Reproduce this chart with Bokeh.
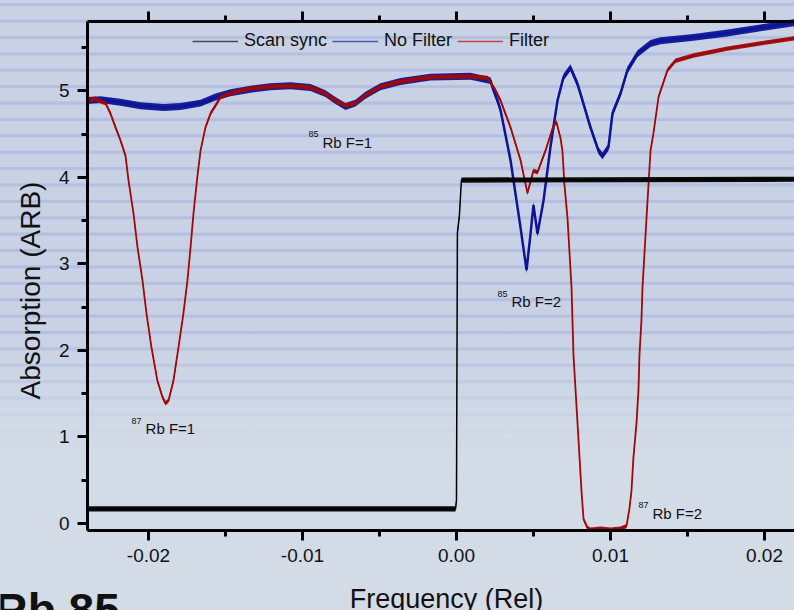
import numpy as np
from bokeh.plotting import figure
from bokeh.models import (FixedTicker, Legend, LegendItem, Label, LinearAxis,
                          Range1d, ColumnDataSource)
from bokeh.core.properties import value
from bokeh.embed import file_html
from bokeh.resources import INLINE

# ---------------- data ----------------
scan_x = [-0.02396, -0.00006, 0.00000, 0.00006, 0.00019, 0.00032, 0.02195]
scan_y = [0.17, 0.17, 0.27, 3.36, 3.56, 3.97, 3.98]

nofilter_x = [-0.02396, -0.02312, -0.02182, -0.02052, -0.01903, -0.01792, -0.01662,
              -0.01565, -0.01468, -0.01338, -0.01208, -0.01078, -0.00948, -0.00851,
              -0.00786, -0.00721, -0.00656, -0.00591, -0.00494, -0.00364, -0.00169,
              0.00091, 0.00221, 0.00240, 0.00266, 0.00286, 0.00351, 0.00416, 0.00455,
              0.00481, 0.00500, 0.00526, 0.00565, 0.00610, 0.00656, 0.00695, 0.00740,
              0.00786, 0.00805, 0.00870, 0.00922, 0.00948, 0.00987, 0.01013, 0.01065,
              0.01110, 0.01175, 0.01260, 0.01325, 0.01539, 0.01760, 0.01974, 0.02195]
nofilter_y = [4.89, 4.90, 4.87, 4.83, 4.81, 4.82, 4.86,
              4.93, 4.98, 5.02, 5.05, 5.06, 5.04, 4.97,
              4.89, 4.82, 4.86, 4.95, 5.05, 5.11, 5.16,
              5.17, 5.12, 5.01, 4.89, 4.78, 4.20, 3.42, 2.93,
              3.35, 3.68, 3.35, 3.73, 4.35, 4.89, 5.16, 5.27,
              5.08, 4.97, 4.58, 4.31, 4.25, 4.35, 4.74, 4.97,
              5.24, 5.43, 5.55, 5.58, 5.62, 5.67, 5.73, 5.79]

filter_x = [-0.02396, -0.02344, -0.02312, -0.02279, -0.02247, -0.02214, -0.02182,
            -0.02149, -0.02130, -0.02097, -0.02071, -0.02039, -0.02013, -0.01981,
            -0.01942, -0.01909, -0.01890, -0.01870, -0.01838, -0.01805, -0.01773,
            -0.01747, -0.01727, -0.01708, -0.01682, -0.01662, -0.01630, -0.01597,
            -0.01565, -0.01532, -0.01435, -0.01338, -0.01208, -0.01078, -0.00948,
            -0.00851, -0.00786, -0.00721, -0.00656, -0.00591, -0.00494, -0.00364,
            -0.00169, 0.00091, 0.00201, 0.00253, 0.00286, 0.00351, 0.00416,
            0.00461, 0.00500, 0.00526, 0.00578, 0.00630, 0.00649, 0.00675,
            0.00688, 0.00701, 0.00721, 0.00747, 0.00760, 0.00786, 0.00812,
            0.00825, 0.00851, 0.00870, 0.00935, 0.01000, 0.01065, 0.01104,
            0.01123, 0.01136, 0.01149, 0.01169, 0.01182, 0.01188, 0.01201,
            0.01208, 0.01221, 0.01234, 0.01247, 0.01260, 0.01279, 0.01312,
            0.01370, 0.01422, 0.01539, 0.01760, 0.01974, 0.02195]
filter_y = [4.89, 4.91, 4.88, 4.86, 4.74, 4.58, 4.43,
            4.25, 3.97, 3.58, 3.19, 2.81, 2.43, 2.04,
            1.65, 1.46, 1.39, 1.42, 1.65, 2.04, 2.43,
            2.81, 3.19, 3.58, 4.02, 4.31, 4.58, 4.74,
            4.83, 4.93, 4.99, 5.03, 5.05, 5.06, 5.04,
            4.97, 4.89, 4.83, 4.86, 4.95, 5.05, 5.11,
            5.16, 5.17, 5.15, 5.01, 4.89, 4.58, 4.20,
            3.82, 4.08, 4.06, 4.31, 4.60, 4.64, 4.46,
            4.31, 3.92, 3.53, 2.73, 1.94, 1.16, 0.37,
            0.05, -0.05, -0.07, -0.06, -0.07, -0.06, -0.03,
            0.17, 0.37, 0.76, 1.16, 1.55, 1.94, 2.34,
            2.73, 3.13, 3.53, 3.92, 4.31, 4.51, 4.93,
            5.24, 5.35, 5.41, 5.49, 5.55, 5.61]

series_names = ["Scan sync", "No Filter", "Filter"]

x_ticks = [-0.02, -0.01, 0.0, 0.01, 0.02]
x_tick_labels = ["-0.02", "-0.01", "0.00", "0.01", "0.02"]
x_minor_ticks = [-0.015, -0.005, 0.005, 0.015]
y_ticks = [0, 1, 2, 3, 4, 5]
y_tick_labels = ["0", "1", "2", "3", "4", "5"]
y_minor_ticks = [0.5, 1.5, 2.5, 3.5, 4.5, 5.5]

peak_names = ["Rb F=1", "Rb F=1", "Rb F=2", "Rb F=2"]
peak_isotopes = ["85", "87", "85", "87"]
peak_x = [-0.00870, -0.02019, 0.00357, 0.01273]
peak_y = [4.405, 1.098, 2.566, 0.116]

x_title = "Frequency (Rel)"
y_title = "Absorption (ARB)"
corner_title = "Rb 85"

# ---------------- styling / layout ----------------
FONT = "Liberation Sans"
C_SCAN, C_NOF, C_FIL = "#000000", "#0d1496", "#a10808"
L_SCAN, L_NOF, L_FIL = "#4a4a55", "#4b55c0", "#c04a4a"

# plotting box (the framed area) inside a canvas-wide frame
BOX_X0, BOX_X1 = -0.02396, 0.02195
BOX_Y0, BOX_Y1 = -0.081, 5.803

p = figure(width=794, height=610,
           x_range=Range1d(-0.02961, 0.02195), y_range=Range1d(-1.0058, 6.0462),
           output_backend="svg", toolbar_location=None,
           x_axis_location=None, y_axis_location=None,
           min_border=0, min_border_left=0, min_border_right=0,
           min_border_top=0, min_border_bottom=0)
p.grid.visible = False
p.outline_line_color = None
p.background_fill_alpha = 0
p.border_fill_alpha = 0
p.styles = {
    "background-color": "#d3dbe7",
    "background-image": (
        "linear-gradient(to bottom, rgba(211,219,231,0) 0px, rgba(211,219,231,0) 330px, "
        "rgba(211,219,231,1) 450px), "
        "repeating-linear-gradient(to bottom, #c8d2e4 0px, #c8d2e4 2.6px, #b5bfe0 3.6px, "
        "#b5bfe0 5.8px, #c8d2e4 6.8px, #c8d2e4 16.39px)"),
}


def style_axis(ax, font_size="19px"):
    ax.axis_line_width = 3
    ax.axis_line_color = "black"
    ax.major_tick_line_width = 3
    ax.minor_tick_line_width = 3
    ax.major_tick_out = 10
    ax.major_tick_in = 0
    ax.minor_tick_out = 6
    ax.minor_tick_in = 0
    ax.major_label_text_font = FONT
    ax.major_label_text_font_size = font_size
    ax.major_label_text_color = "#111111"
    ax.major_label_standoff = 8


xt = FixedTicker(ticks=x_ticks, minor_ticks=x_minor_ticks)
yt = FixedTicker(ticks=y_ticks, minor_ticks=y_minor_ticks)

bottom = LinearAxis(ticker=xt, major_label_overrides=dict(zip(x_ticks, x_tick_labels)),
                    fixed_location=BOX_Y0, bounds=(BOX_X0, BOX_X1))
style_axis(bottom)
p.add_layout(bottom, "below")

top = LinearAxis(ticker=xt, major_label_overrides={t: "" for t in x_ticks},
                 fixed_location=BOX_Y1, bounds=(BOX_X0, BOX_X1))
style_axis(top, "1px")
top.major_label_standoff = 0
p.add_layout(top, "above")

left = LinearAxis(ticker=yt, major_label_overrides=dict(zip(y_ticks, y_tick_labels)),
                  fixed_location=BOX_X0, bounds=(BOX_Y0, BOX_Y1))
style_axis(left)
p.add_layout(left, "left")

# noise bands + lines
nx, ny = np.array(nofilter_x), np.array(nofilter_y)
fx, fy = np.array(filter_x), np.array(filter_y)
sx, sy = np.array(scan_x), np.array(scan_y)

p.varea(x=nx, y1=ny - 0.04, y2=ny + 0.04, fill_color=C_NOF, fill_alpha=0.95)
p.line(nx, ny, line_color=C_NOF, line_width=2.5)
p.varea(x=fx, y1=fy - 0.025, y2=fy + 0.025, fill_color=C_FIL, fill_alpha=0.95)
p.line(fx, fy, line_color=C_FIL, line_width=1.8)
p.varea(x=sx, y1=sy - 0.03, y2=sy + 0.03, fill_color=C_SCAN, fill_alpha=0.95)
p.line(sx, sy, line_color=C_SCAN, line_width=1.5)

# legend (sample lines only; their single point lies outside the visible ranges)
leg_r = [p.line([-1, -1], [-9, -9], line_color=c, line_width=1.6)
         for c in (L_SCAN, L_NOF, L_FIL)]
legend = Legend(items=[LegendItem(label=n, renderers=[r]) for n, r in zip(series_names, leg_r)],
                orientation="horizontal", location=(192, 559),
                glyph_width=46, glyph_height=20, label_standoff=6, spacing=5,
                padding=0, margin=0, background_fill_alpha=0, border_line_alpha=0,
                label_text_font=FONT, label_text_font_size="18px",
                label_text_color="#111111")
p.add_layout(legend)

# peak annotations
src = ColumnDataSource(dict(x=peak_x, y=peak_y, name=peak_names, iso=peak_isotopes))
p.text(x="x", y="y", text="name", source=src, text_font=value(FONT),
       text_font_size=value("15px"), text_color="#111111",
       text_align="left", text_baseline="alphabetic")
p.text(x="x", y="y", text="iso", source=src, text_font=value(FONT),
       text_font_size=value("9px"), text_color="#111111",
       text_align="left", text_baseline="alphabetic", x_offset=-14, y_offset=-8)

# axis titles and corner title (screen units from the canvas bottom-left)
p.add_layout(Label(x=30, y=320, x_units="screen", y_units="screen", text=y_title,
                   angle=90, angle_units="deg", text_align="center",
                   text_baseline="middle", text_font=FONT, text_font_size="28px",
                   text_color="#111111"))
p.add_layout(Label(x=446, y=12, x_units="screen", y_units="screen", text=x_title,
                   text_align="center", text_baseline="alphabetic", text_font=FONT,
                   text_font_size="27px", text_color="#111111"))
p.add_layout(Label(x=-6, y=1, x_units="screen", y_units="screen", text=corner_title,
                   text_align="left", text_baseline="alphabetic", text_font=FONT,
                   text_font_size="46px", text_font_style="bold", text_color="#111111"))

open("out.html", "w").write(file_html(p, INLINE))
